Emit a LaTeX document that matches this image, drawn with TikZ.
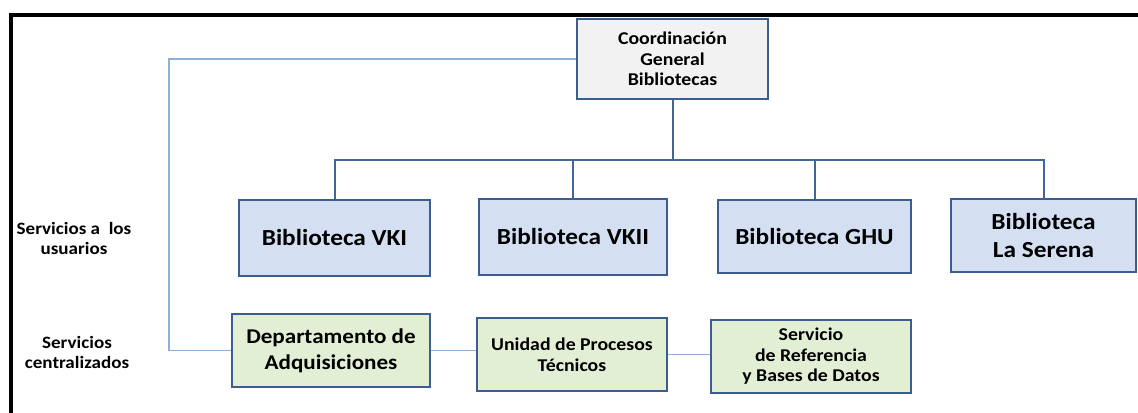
\documentclass[tikz,border=0pt]{standalone}
\usepackage{fontspec}
\setmainfont{Carlito}[FakeStretch=1.1]
\definecolor{boxborder}{HTML}{3B5E8E}
\definecolor{busline}{HTML}{41669A}
\definecolor{lightline}{HTML}{8DB0DA}
\definecolor{bibfill}{HTML}{D4E0F2}
\definecolor{coordfill}{HTML}{F2F2F2}
\definecolor{greenfill}{HTML}{E3EFD5}
\tikzset{
  orgbox/.style={draw=boxborder, line width=2.2pt, rectangle, align=center, inner sep=0pt, font=\bfseries},
  bibbox/.style={orgbox, fill=bibfill, font=\bfseries\fontsize{17.25}{21}\selectfont},
  coordbox/.style={orgbox, fill=coordfill, font=\bfseries\fontsize{13.5}{15.4}\selectfont},
  greenbox/.style={orgbox, fill=greenfill, font=\bfseries\fontsize{13.5}{15.4}\selectfont},
  bigreen/.style={greenbox, font=\bfseries\fontsize{15.75}{19.5}\selectfont},
  sidelabel/.style={align=center, inner sep=0pt, font=\bfseries\fontsize{13}{15}\selectfont},
  busconn/.style={draw=busline, line width=1.5pt},
  lightconn/.style={draw=lightline, line width=1.2pt},
  frameline/.style={draw=black, line width=2.4pt}
}
\begin{document}
\begin{tikzpicture}[x=0.75pt,y=-0.75pt]
\useasboundingbox (0,0) rectangle (1138,412);
% frame
\coordinate (ftr) at (1140,15);
\coordinate (ftl) at (11,15);
\coordinate (fbl) at (11,414);
\draw[frameline] (ftr) -- (ftl) -- (fbl);

% nodes
\node[coordbox, minimum width=191pt*0.75, minimum height=80pt*0.75] (coord) at (672.5,59) {Coordinación\\General\\Bibliotecas};
\node[bibbox, minimum width=191pt*0.75, minimum height=76pt*0.75] (vki) at (334.5,238) {Biblioteca VKI};
\node[bibbox, minimum width=188pt*0.75, minimum height=76pt*0.75] (vkii) at (573,237) {Biblioteca VKII};
\node[bibbox, minimum width=193pt*0.75, minimum height=73pt*0.75] (ghu) at (814.5,236.5) {Biblioteca GHU};
\node[bibbox, minimum width=185pt*0.75, minimum height=73pt*0.75] (ser) at (1043.5,235.5) {Biblioteca\\La Serena};
\node[bigreen, minimum width=198pt*0.75, minimum height=73pt*0.75] (dept) at (331,350.5) {Departamento de\\Adquisiciones};
\node[greenbox, minimum width=190pt*0.75, minimum height=73pt*0.75] (uni) at (572,354.5) {Unidad de Procesos\\Técnicos};
\node[greenbox, minimum width=200pt*0.75, minimum height=73pt*0.75] (serv) at (811,356.5) {Servicio\\de Referencia\\y Bases de Datos};

% side labels
\node[sidelabel] (lab1) at (74,238) {Servicios a\ \ los\\usuarios};
\node[sidelabel] (lab2) at (77,352) {Servicios\\centralizados};

% bus connectors
\coordinate (bus) at (672.5,160);
\draw[busconn] (coord.south) -- (bus);
\draw[busconn] (vki.north) -- (vki.north |- bus) -- (ser.north |- bus) -- (ser.north);
\draw[busconn] (vkii.north) -- (vkii.north |- bus);
\draw[busconn] (ghu.north) -- (ghu.north |- bus);

% light connectors
\coordinate (lcorner) at (169,59);
\draw[lightconn] (coord.west) -- (lcorner) -- (lcorner |- dept.west) -- (dept.west);
\draw[lightconn] (dept.east) -- (uni.west |- dept.east);
\draw[lightconn] (uni.east) -- (serv.west |- uni.east);
\end{tikzpicture}
\end{document}
